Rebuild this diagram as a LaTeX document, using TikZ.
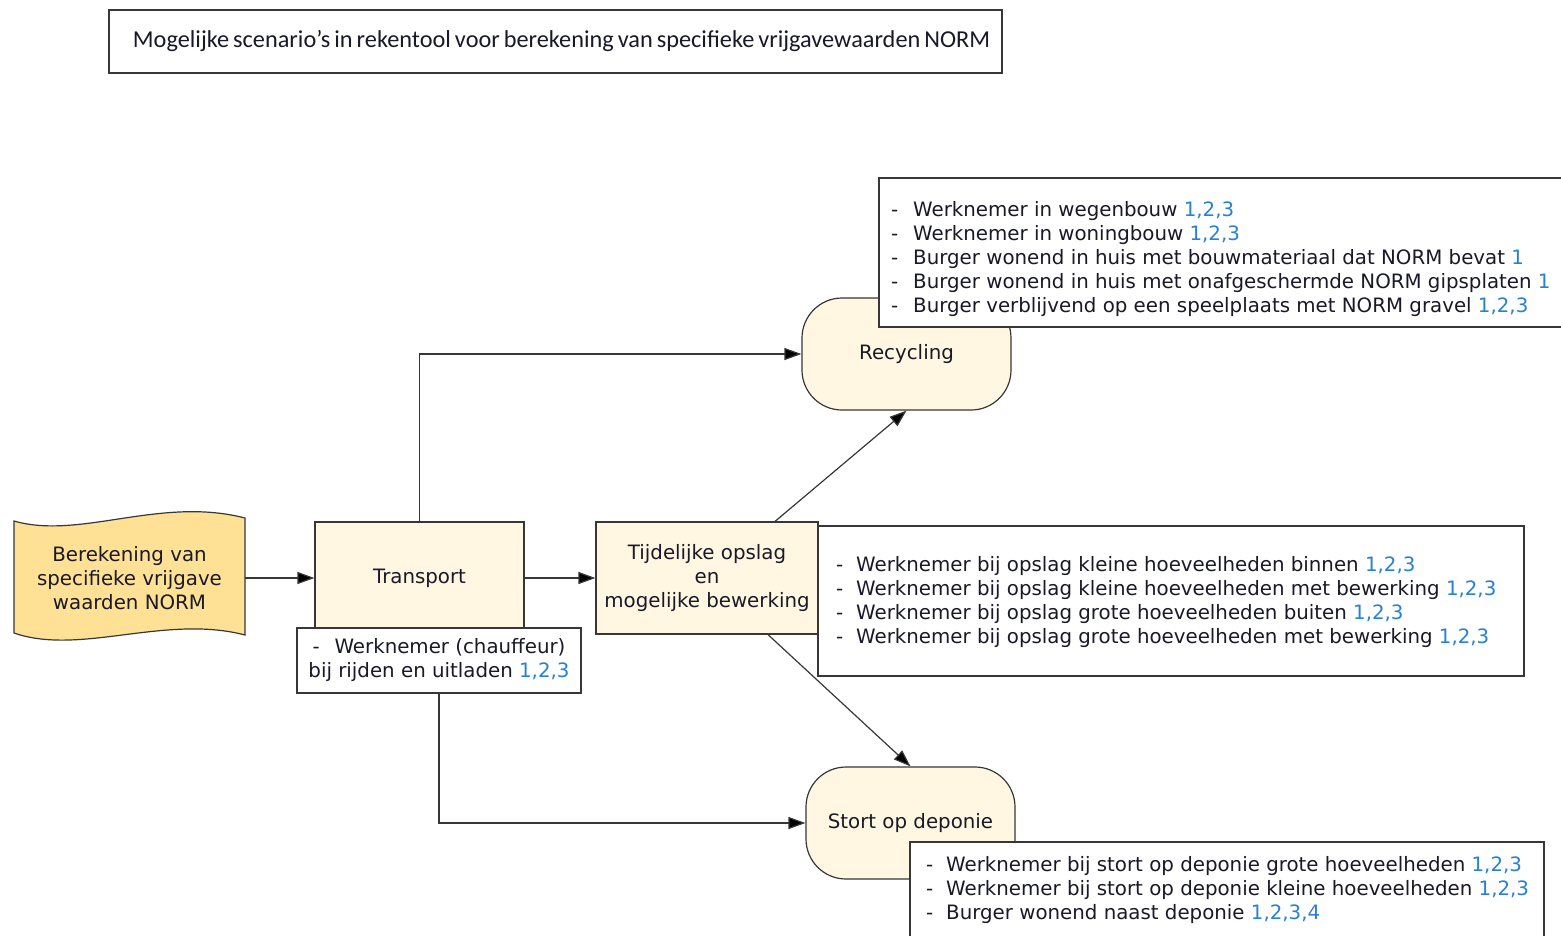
\documentclass[tikz,border=0pt]{standalone}
\usepackage{fontspec}
\setmainfont{DejaVu Sans}
\newfontfamily\titlefont{Carlito}
\usetikzlibrary{arrows.meta}
\definecolor{cream}{RGB}{255,247,225}
\definecolor{tapefill}{RGB}{255,225,150}
\definecolor{numblue}{RGB}{40,128,215}
\definecolor{txt}{RGB}{25,25,40}
\definecolor{edge}{RGB}{55,55,55}
\newcommand{\nb}[1]{\textcolor{numblue}{#1}}
\newcommand{\itmA}{\makebox[22pt][l]{-}}
\newcommand{\itmB}{\makebox[20pt][l]{-}}
\begin{document}
\begin{tikzpicture}[x=1pt,y=-1pt,
  every node/.style={font=\fontsize{19.8}{24}\selectfont, text=txt},
  procbox/.style={draw=edge, line width=1.2pt, fill=cream, inner sep=0pt, align=center},
  roundbox/.style={procbox, rounded corners=40pt},
  notebox/.style={draw=edge, line width=1.3pt, fill=white, inner sep=0pt},
  notetext/.style={align=left, inner sep=0pt, anchor=west},
  conn/.style={draw=edge, line width=1.2pt, -{Triangle[length=17pt,width=12pt,fill=black]}}
]
\useasboundingbox (0,0) rectangle (1561,935);
\fill[white] (0,0) rectangle (1561,935);

% title
\node[draw=edge, line width=1.3pt, minimum width=893pt, minimum height=63pt, inner sep=0pt,
      font=\titlefont\fontsize{24.3}{28}\selectfont] (title) at (555.5,41.5)
      {\spaceskip=4pt\hspace{12pt}Mogelijke scenario’s in rekentool voor berekening van specifieke vrijgavewaarden NORM};

% tape shape
\draw[edge, line width=1.2pt, fill=tapefill]
  (14,521) .. controls (80,540) and (160,496) .. (245,518)
  -- (245,635) .. controls (165,614) and (80,656) .. (14,633) -- cycle;
\node[inner sep=0pt, minimum width=231pt, minimum height=112pt, align=center] (calc) at (129.5,578)
  {Berekening van\\specifieke vrijgave\\waarden NORM};

% process boxes
\node[procbox, minimum width=209pt, minimum height=112pt] (transport) at (419.5,578) {Transport};
\node[procbox, minimum width=222pt, minimum height=112pt] (tijd) at (707,578)
  {Tijdelijke opslag\\en\\mogelijke bewerking};
\node[roundbox, minimum width=209pt, minimum height=112pt] (recyc) at (906.5,354) {Recycling};
\node[roundbox, minimum width=209pt, minimum height=112pt] (stort) at (910.5,823) {Stort op deponie};

% connectors
\draw[conn] (calc.east) -- (transport.west);
\draw[conn] (transport.east) -- (tijd.west);
\draw[conn] (transport.north) |- (recyc.west);
\draw[conn] ([xshift=68pt]tijd.north) -- (recyc.south);
\draw[conn] ([xshift=61pt]tijd.south) -- (stort.north);

% notes
\node[notebox, minimum width=284pt, minimum height=65pt, align=center] (tnote) at (439,660.5)
  {\itmA Werknemer (chauffeur)\\bij rijden en uitladen \nb{1,2,3}};
\draw[conn] (tnote.south) |- (stort.west);

\node[notebox, minimum width=683pt, minimum height=149pt] (rnote) at (1220.5,252.5) {};
\node[notetext] (rtext) at (891,259)
  {\itmA Werknemer in wegenbouw \nb{1,2,3}\\
   \itmA Werknemer in woningbouw \nb{1,2,3}\\
   \itmA Burger wonend in huis met bouwmateriaal dat NORM bevat \nb{1}\\
   \itmA Burger wonend in huis met onafgeschermde NORM gipsplaten \nb{1}\\
   \itmA Burger verblijvend op een speelplaats met NORM gravel \nb{1,2,3}};

\node[notebox, minimum width=706pt, minimum height=150pt] (onote) at (1171,601) {};
\node[notetext] (otext) at (836,602)
  {\itmB Werknemer bij opslag kleine hoeveelheden binnen \nb{1,2,3}\\
   \itmB Werknemer bij opslag kleine hoeveelheden met bewerking \nb{1,2,3}\\
   \itmB Werknemer bij opslag grote hoeveelheden buiten \nb{1,2,3}\\
   \itmB Werknemer bij opslag grote hoeveelheden met bewerking \nb{1,2,3}};

\node[notebox, minimum width=634pt, minimum height=110pt] (snote) at (1227,897) {};
\node[notetext] (stext) at (926,890.5)
  {\itmB Werknemer bij stort op deponie grote hoeveelheden \nb{1,2,3}\\
   \itmB Werknemer bij stort op deponie kleine hoeveelheden \nb{1,2,3}\\
   \itmB Burger wonend naast deponie \nb{1,2,3,4}};
\end{tikzpicture}
\end{document}
